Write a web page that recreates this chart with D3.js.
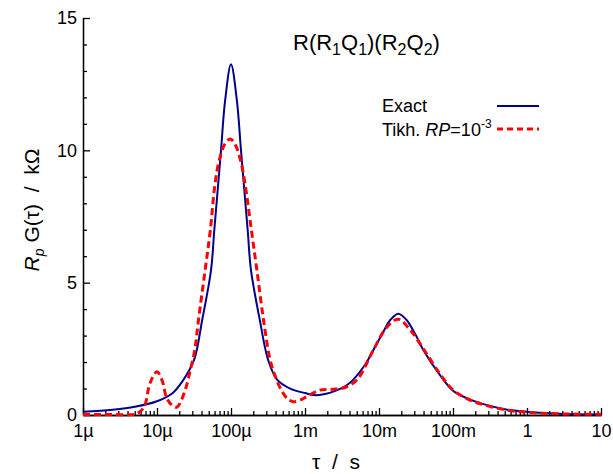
<!DOCTYPE html>
<html>
<head>
<meta charset="utf-8">
<script src="https://cdn.jsdelivr.net/npm/d3@7"></script>
<style>
  body { margin: 0; background: #fff; }
  svg { font-family: Arial, "Liberation Sans", sans-serif; }
  .axis path, .axis line { stroke: #000; stroke-width: 1.3; }
  .axis text { font-size: 18px; fill: #000; }
</style>
</head>
<body>
<div id="graph"></div>
<script>
//log10(tau / s) and Rp G(tau) in kOhm
var exactLgTau = [-6.0, -5.6, -5.3, -5.0, -4.8, -4.65, -4.5, -4.39, -4.27, -4.226, -4.135, -4.08, -4.0,
    -3.92, -3.865, -3.774, -3.73, -3.61, -3.5, -3.38, -3.2, -3.0, -2.84, -2.6, -2.4, -2.2, -2.077,
    -1.95, -1.85, -1.74, -1.63, -1.5, -1.4, -1.176, -1.0, -0.8, -0.6, -0.3, 0.0, 0.5, 1.0];
var exactValues = [0.12, 0.2, 0.31, 0.52, 0.8, 1.3, 2.07, 3.58, 5.47, 6.97, 10.0, 11.87, 13.25,
    11.87, 10.0, 6.97, 5.47, 3.58, 2.1, 1.35, 1.0, 0.83, 0.75, 0.9, 1.2, 1.85, 2.45,
    3.1, 3.58, 3.83, 3.6, 3.0, 2.45, 1.51, 0.92, 0.62, 0.42, 0.22, 0.12, 0.04, 0.02];

var tikhLgTau = [-6.0, -5.6, -5.3, -5.22, -5.16, -5.095, -5.0, -4.93, -4.87, -4.8, -4.73, -4.62, -4.55,
    -4.49, -4.44, -4.35, -4.28, -4.216, -4.16, -4.08, -4.01, -3.94, -3.87, -3.81, -3.73, -3.65, -3.56,
    -3.47, -3.4, -3.32, -3.24, -3.16, -3.05, -2.98, -2.8, -2.62, -2.46, -2.3, -2.077, -1.9, -1.74,
    -1.58, -1.4, -1.176, -1.0, -0.8, -0.6, -0.3, 0.0, 0.5, 1.0];
var tikhValues = [0.02, 0.02, 0.03, 0.15, 0.4, 1.2, 1.63, 1.3, 0.65, 0.38, 0.3, 0.94, 1.7,
    2.45, 3.58, 5.47, 6.97, 8.73, 9.61, 10.25, 10.43, 10.2, 9.61, 8.73, 7.1, 5.47, 3.58,
    2.07, 1.45, 0.94, 0.62, 0.5, 0.58, 0.69, 0.94, 0.97, 1.04, 1.32, 2.45, 3.3, 3.62,
    3.22, 2.5, 1.55, 0.95, 0.6, 0.4, 0.2, 0.1, 0.04, 0.03];

var xTicks = [1e-6, 1e-5, 1e-4, 1e-3, 1e-2, 1e-1, 1, 10];
var xTickLabels = ["1\u00b5", "10\u00b5", "100\u00b5", "1m", "10m", "100m", "1", "10"];
var yTicks = [0, 5, 10, 15];

function toPoints(lgs, vals) {
    return lgs.map(function(lg, i) { return {tau: Math.pow(10, lg), v: vals[i]}; });
}

var width = 613, height = 474;
var svg = d3.select("#graph").append("svg")
    .attr("width", width)
    .attr("height", height);

var x = d3.scaleLog().domain([1e-6, 10]).range([83, 601]);
var y = d3.scaleLinear().domain([0, 15]).range([415, 18]);

//minor ticks
var xMinor = [];
for (var e = -6; e < 1; e++) {
    for (var m = 2; m <= 9; m++) xMinor.push(m * Math.pow(10, e));
}
var yMinor = d3.range(0, 15.01, 1).filter(function(d) { return d % 5 !== 0; });

svg.append("g").attr("class", "axis")
    .attr("transform", "translate(0,415)")
    .call(d3.axisBottom(x).tickValues(xMinor).tickSizeInner(-4).tickSizeOuter(0).tickFormat(""));
svg.append("g").attr("class", "axis")
    .attr("transform", "translate(0,415)")
    .call(d3.axisBottom(x).tickValues(xTicks).tickSizeInner(-7).tickSizeOuter(0).tickPadding(9)
        .tickFormat(function(d, i) { return xTickLabels[i]; }));

svg.append("g").attr("class", "axis")
    .attr("transform", "translate(83,0)")
    .call(d3.axisLeft(y).tickValues(yMinor).tickSizeInner(-4).tickSizeOuter(0).tickFormat(""));
svg.append("g").attr("class", "axis")
    .attr("transform", "translate(83,0)")
    .call(d3.axisLeft(y).tickValues(yTicks).tickSizeInner(-7).tickSizeOuter(0).tickPadding(6));

//curves
var line = d3.line()
    .x(function(d) { return x(d.tau); })
    .y(function(d) { return y(d.v); })
    .curve(d3.curveCatmullRom.alpha(0.5));

svg.append("path")
    .attr("d", line(toPoints(exactLgTau, exactValues)))
    .attr("fill", "none")
    .attr("stroke", "#00008b")
    .attr("stroke-width", 2);

svg.append("path")
    .attr("d", line(toPoints(tikhLgTau, tikhValues)))
    .attr("fill", "none")
    .attr("stroke", "#ff0000")
    .attr("stroke-width", 3)
    .attr("stroke-dasharray", "7,4");

//title
var title = svg.append("text")
    .attr("x", 293).attr("y", 55)
    .attr("font-size", 22);
[["R(R", false], ["1", true], ["Q", false], ["1", true], [")(R", false], ["2", true], ["Q", false], ["2", true], [")", false]]
    .forEach(function(p) {
        title.append("tspan")
            .attr("font-size", p[1] ? 16 : 22)
            .attr("dy", p[1] ? 5 : (title.node().childNodes.length ? -5 : 0))
            .text(p[0]);
    });

//legend
svg.append("text").attr("x", 382).attr("y", 112).attr("font-size", 18).text("Exact");
svg.append("line").attr("x1", 497).attr("x2", 539).attr("y1", 106).attr("y2", 106)
    .attr("stroke", "#00008b").attr("stroke-width", 2);

var leg2 = svg.append("text").attr("x", 382).attr("y", 136).attr("font-size", 18);
leg2.append("tspan").text("Tikh. ");
leg2.append("tspan").attr("font-style", "italic").text("RP");
leg2.append("tspan").text("=10");
leg2.append("tspan").attr("font-size", 12).attr("dy", -8).text("-3");
svg.append("line").attr("x1", 497).attr("x2", 539).attr("y1", 129).attr("y2", 129)
    .attr("stroke", "#ff0000").attr("stroke-width", 3).attr("stroke-dasharray", "6,4");

//axis titles
svg.append("text").attr("x", 336).attr("y", 469).attr("text-anchor", "middle")
    .attr("font-size", 21).attr("xml:space", "preserve").text("\u03c4  /  s");

var yt = svg.append("text").attr("transform", "translate(39,210) rotate(-90)")
    .attr("text-anchor", "middle").attr("font-size", 21).attr("xml:space", "preserve");
yt.append("tspan").attr("font-style", "italic").text("R");
yt.append("tspan").attr("font-style", "italic").attr("font-size", 14).attr("dy", 5).text("p");
yt.append("tspan").attr("dy", -5).text(" G(\u03c4)  /  k\u03a9");
</script>
</body>
</html>
